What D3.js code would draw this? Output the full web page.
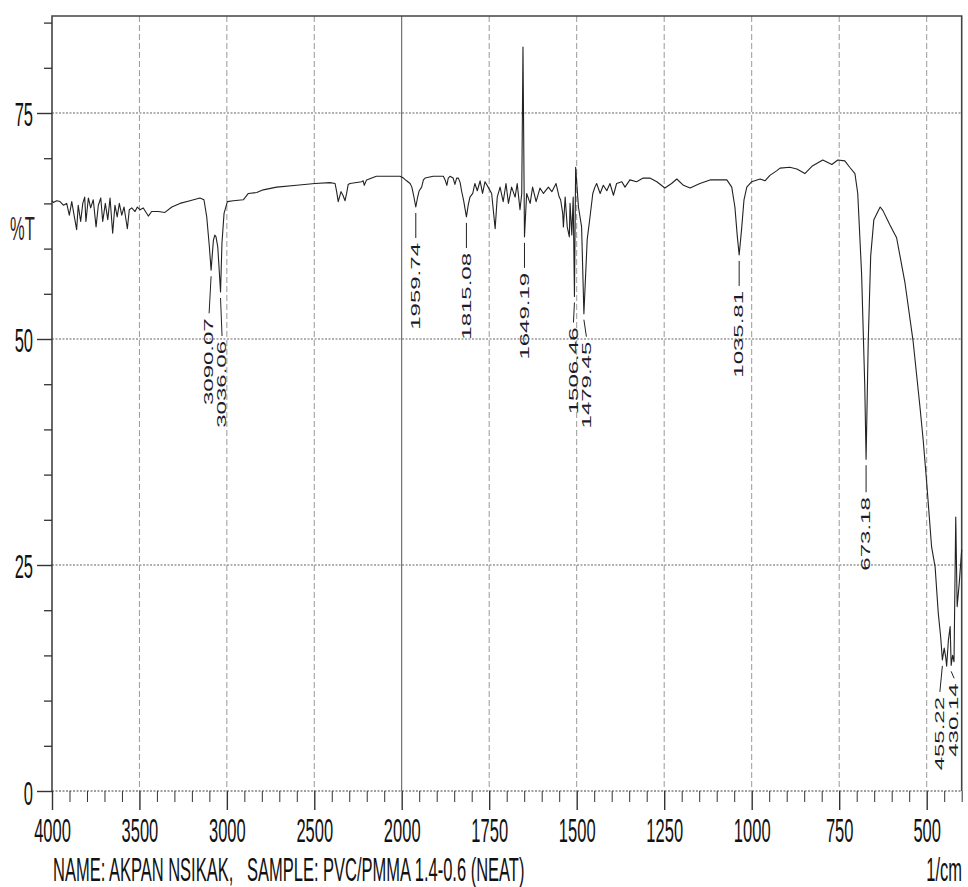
<!DOCTYPE html>
<html>
<head>
<meta charset="utf-8">
<script src="https://cdn.jsdelivr.net/npm/d3@7"></script>
<style>
  body { margin: 0; background: #fff; }
  svg { display: block; font-family: "Liberation Sans", Arial, sans-serif; }
</style>
</head>
<body>
<div id="chart"></div>
<script>
// Spectrum: wavenumber (1/cm) and transmittance (%T)
const wavenumber = [
  4000, 3993, 3973, 3954, 3935, 3916, 3901, 3887, 3872, 3859, 3850, 3836, 3824, 3813, 3806, 3792,
  3779, 3764, 3748, 3735, 3721, 3710, 3695, 3681, 3668, 3653, 3640, 3627, 3615, 3601, 3588, 3569,
  3558, 3544, 3525, 3512, 3497, 3478, 3449, 3430, 3392, 3354, 3315, 3268, 3211, 3154, 3131, 3115,
  3100, 3090.07, 3077, 3069, 3062, 3052, 3036.06, 3028, 3016, 2997, 2963, 2906, 2877, 2829, 2792,
  2715, 2601, 2496, 2410, 2381, 2372, 2363, 2347, 2336, 2324, 2315, 2306, 2296, 2229, 2220, 2214,
  2201, 2145, 2126, 2030, 2010, 1995, 1986, 1976, 1971, 1966, 1959.74, 1955, 1950, 1943, 1938,
  1933, 1910, 1881, 1876, 1871, 1867, 1862, 1853, 1848, 1843, 1838, 1833, 1829, 1823, 1815.08,
  1810, 1805, 1797, 1791, 1784, 1776, 1769, 1762, 1753, 1743, 1733, 1727, 1719, 1710, 1702, 1695,
  1686, 1676, 1670, 1662, 1657, 1653.5, 1649.19, 1643, 1633, 1626, 1616, 1605, 1595, 1581, 1571,
  1559, 1550, 1546, 1540, 1538, 1533, 1527, 1521, 1519, 1514, 1510, 1506.46, 1503, 1495, 1486,
  1479.45, 1470, 1462, 1454, 1448, 1443, 1433, 1424, 1414, 1405, 1395, 1386, 1371, 1362, 1348,
  1329, 1310, 1291, 1271, 1248, 1229, 1214, 1195, 1176, 1148, 1119, 1071, 1057, 1048, 1041,
  1035.81, 1029, 1022, 1014, 1000, 976, 962, 948, 929, 919, 891, 871, 848, 828, 797, 771, 754,
  734, 720, 705, 697, 686, 677, 673.18, 667, 660, 651, 633, 625, 605, 586, 562, 539, 519, 510,
  500, 486, 476, 467, 460, 455.22, 450, 446, 443, 438, 433, 430.14, 426, 422, 417, 413, 407, 400
];
const transmittance = [
  65.3, 65.1, 65.3, 65.2, 64.8, 65.0, 63.7, 65.2, 63.5, 62.1, 64.8, 63.0, 65.0, 65.7, 63.0, 65.6,
  64.5, 65.4, 62.4, 64.8, 65.6, 63.0, 65.0, 63.2, 65.6, 61.7, 64.8, 63.5, 65.0, 63.7, 64.6, 62.2,
  64.3, 64.5, 64.1, 64.6, 64.3, 64.5, 63.6, 64.1, 64.1, 64.0, 64.6, 65.0, 65.3, 65.6, 65.4, 63.5,
  60.2, 57.6, 60.9, 61.5, 61.3, 60.2, 55.2, 60.6, 63.9, 65.2, 65.3, 65.4, 66.1, 66.2, 66.5,
  66.8, 67.0, 67.2, 67.3, 67.2, 66.3, 65.2, 66.3, 65.9, 65.3, 66.1, 67.1, 67.2, 67.4, 67.5, 67.0,
  67.6, 68.0, 68.0, 68.0, 68.0, 67.8, 67.5, 67.2, 66.8, 65.9, 64.6, 65.6, 66.4, 66.8, 67.6,
  67.8, 68.0, 68.0, 67.6, 67.0, 67.8, 68.0, 67.8, 67.1, 67.8, 67.8, 67.3, 66.4, 65.3, 63.5,
  64.8, 65.7, 66.1, 67.2, 66.4, 67.5, 66.1, 67.4, 66.8, 66.1, 62.2, 65.7, 66.8, 65.2, 67.2, 65.0,
  66.8, 65.7, 67.2, 64.3, 66.1, 82.3, 61.3, 66.1, 65.0, 66.8, 65.2, 66.7, 66.1, 66.8, 66.3,
  67.2, 65.7, 65.4, 63.9, 62.4, 65.7, 62.4, 61.3, 65.0, 61.5, 65.7, 54.7, 69.0, 64.6, 62.4,
  52.8, 61.0, 63.5, 66.1, 66.8, 67.2, 66.1, 67.0, 66.4, 67.2, 65.9, 67.2, 67.4, 66.8, 67.6,
  67.4, 67.8, 67.8, 67.4, 66.7, 67.2, 67.7, 67.0, 66.7, 67.2, 67.6, 67.6, 66.8, 64.6, 61.3,
  59.3, 62.1, 65.4, 66.8, 67.4, 67.7, 67.5, 68.1, 68.6, 68.9, 69.0, 68.8, 68.3, 69.1, 69.8, 69.3, 69.8,
  69.7, 69.0, 68.3, 66.1, 57.2, 44.9, 36.7, 49.8, 59.2, 63.2, 64.6, 64.2, 62.6, 61.2, 56.2, 49.8, 42.4, 38.8,
  34.1, 27.0, 24.8, 19.7, 17.0, 14.5, 15.8, 14.9, 13.8, 16.7, 18.2, 13.9, 15.0, 14.3, 30.3, 20.4, 23.0, 26.7
];

// Picked bands
const peaks = [3090.07, 3036.06, 1959.74, 1815.08, 1649.19, 1506.46, 1479.45, 1035.81, 673.18, 455.22, 430.14];
// leader length and sideways nudge of each band label so they don't collide
const peakLead = [37, 38, 25, 25, 25, 20, 17, 25, 27, 26, 7];
const peakShift = [-2, 1.5, 0, 0, 0, -1, 2.5, 0, 0, -2.5, 3];

const xTicks = [4000, 3500, 3000, 2500, 2000, 1750, 1500, 1250, 1000, 750, 500];
const yTicks = [0, 25, 50, 75];

const W = 968, H = 887;
const stretch = 2; // tall, condensed look of the instrument's lettering

const svg = d3.select("#chart")
  .append("svg")
  .attr("width", W)
  .attr("height", H);

// x is split: 4000-2000 at half the scale of 2000-400
const x = d3.scaleLinear()
  .domain([4000, 2000, 400])
  .range([52, 401.7, 961.7]);

const y = d3.scaleLinear()
  .domain([0, 85.73])
  .range([791, 16]);

const plotL = x(4000), plotR = x(400), plotT = y(85.73), plotB = y(0);

// grid
svg.append("g")
  .selectAll("line")
  .data(xTicks.filter(d => d !== 4000))
  .join("line")
  .attr("x1", d => x(d)).attr("x2", d => x(d))
  .attr("y1", plotT).attr("y2", plotB)
  .attr("stroke", d => d === 2000 ? "#555" : "#999")
  .attr("stroke-width", 1)
  .attr("stroke-dasharray", d => d === 2000 ? null : "6,3");

svg.append("g")
  .selectAll("line")
  .data(yTicks)
  .join("line")
  .attr("x1", plotL).attr("x2", plotR)
  .attr("y1", d => y(d)).attr("y2", d => y(d))
  .attr("stroke", d => d === 0 ? "#444" : "#666")
  .attr("stroke-width", d => d === 0 ? 1.2 : 1)
  .attr("stroke-dasharray", "2,1.5");

// frame (top, left, right)
svg.append("path")
  .attr("d", `M${plotL},${plotB}V${plotT}H${plotR}V${plotB}`)
  .attr("fill", "none")
  .attr("stroke", "#444")
  .attr("stroke-width", 1.6);

// x axis
const minorX = d3.range(3900, 2000, -100).concat(d3.range(1950, 399, -50))
  .filter(d => !xTicks.includes(d));

const xMinor = svg.append("g")
  .attr("transform", `translate(0,${plotB})`)
  .call(d3.axisBottom(x).tickValues(minorX).tickSize(11).tickFormat(""));
xMinor.select(".domain").remove();
xMinor.selectAll("line").attr("stroke", "#333");

const xAxis = svg.append("g")
  .attr("transform", `translate(0,${plotB})`)
  .call(d3.axisBottom(x).tickValues(xTicks).tickSize(19).tickFormat(d3.format("d")));
xAxis.select(".domain").remove();
xAxis.attr("font-family", null);
xAxis.selectAll("line").attr("stroke", "#333").attr("stroke-width", 1.4);
xAxis.selectAll("text")
  .attr("y", null).attr("dy", null)
  .attr("transform", `translate(0,51) scale(1,${stretch})`)
  .style("font-size", "16.5px")
  .attr("fill", "#111");

// y axis
const minorY = d3.range(5, 86, 5).filter(d => !yTicks.includes(d));

const yMinor = svg.append("g")
  .attr("transform", `translate(${plotL},0)`)
  .call(d3.axisLeft(y).tickValues(minorY).tickSize(8).tickFormat(""));
yMinor.select(".domain").remove();
yMinor.selectAll("line").attr("stroke", "#333").attr("stroke-width", 1.3);

const yAxis = svg.append("g")
  .attr("transform", `translate(${plotL},0)`)
  .call(d3.axisLeft(y).tickValues(yTicks).tickSize(15).tickFormat(d3.format("d")));
yAxis.select(".domain").remove();
yAxis.attr("font-family", null);
yAxis.selectAll("line").attr("stroke", "#333").attr("stroke-width", 1.4);
yAxis.selectAll("text")
  .attr("x", null).attr("dy", null)
  .attr("transform", `translate(-19,13) scale(1,${stretch})`)
  .style("font-size", "16.5px")
  .attr("fill", "#111");

svg.append("text")
  .attr("transform", `translate(10,240) scale(1,${stretch})`)
  .style("font-size", "16.5px")
  .attr("fill", "#3a1c1c")
  .text("%T");

// spectrum
const line = d3.line()
  .x(d => x(d[0]))
  .y(d => y(d[1]));

svg.append("path")
  .datum(d3.zip(wavenumber, transmittance))
  .attr("d", line)
  .attr("fill", "none")
  .attr("stroke", "#222")
  .attr("stroke-width", 1.1)
  .attr("stroke-linejoin", "round");

// band labels
const bands = svg.append("g");
peaks.forEach((p, i) => {
  const t = transmittance[wavenumber.indexOf(p)];
  const x0 = x(p), y0 = y(t) + 6;
  const y1 = y0 + peakLead[i];
  const x1 = x0 + peakShift[i];

  bands.append("line")
    .attr("x1", x0).attr("y1", y0)
    .attr("x2", x1).attr("y2", y1)
    .attr("stroke", "#222")
    .attr("stroke-width", 1);

  bands.append("text")
    .attr("transform", `translate(${x1},${y1 + 5}) scale(1,${stretch}) rotate(-90)`)
    .attr("text-anchor", "end")
    .attr("dominant-baseline", "central")
    .style("font-size", "12px")
    .attr("fill", "#1c1c2c")
    .text(p.toFixed(2));
});

// footer
svg.append("text")
  .attr("transform", `translate(53,880.5) scale(1,${stretch})`)
  .style("font-size", "16.5px")
  .style("white-space", "pre")
  .attr("fill", "#111")
  .text("NAME: AKPAN NSIKAK,   SAMPLE: PVC/PMMA 1.4-0.6 (NEAT)");

svg.append("text")
  .attr("transform", `translate(962,880.5) scale(1,${stretch})`)
  .attr("text-anchor", "end")
  .style("font-size", "16.5px")
  .attr("fill", "#111")
  .text("1/cm");
</script>
</body>
</html>
